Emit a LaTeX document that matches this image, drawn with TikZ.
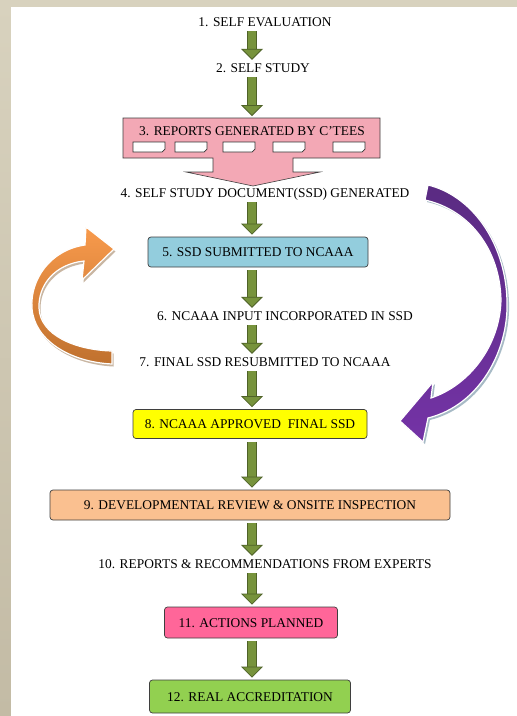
\documentclass[tikz,border=0pt]{standalone}
\usepackage{fontspec}
\setmainfont{Liberation Serif}
\usetikzlibrary{arrows.meta}

\definecolor{frametop}{HTML}{D8D2BE}
\definecolor{framebot}{HTML}{C3BBA5}
\definecolor{gfill}{HTML}{77933C}
\definecolor{gline}{HTML}{4F6228}
\definecolor{boxline}{HTML}{3F3F3F}
\definecolor{pinkthree}{HTML}{F3A8B5}
\definecolor{bluefive}{HTML}{93CDDD}
\definecolor{yelloweight}{HTML}{FFFF00}
\definecolor{orangenine}{HTML}{FAC090}
\definecolor{pinkeleven}{HTML}{FF6699}
\definecolor{greentwelve}{HTML}{92D050}
\definecolor{orangetop}{HTML}{F89A4C}
\definecolor{orangebot}{HTML}{C0712E}
\definecolor{orangeshadow}{HTML}{C9B6A2}
\definecolor{purpletop}{HTML}{5A2B82}
\definecolor{purplebot}{HTML}{7433A6}
\definecolor{purpleshadow}{HTML}{A7BAC6}

\tikzset{
  lbl/.style={font=\fontsize{13.4}{16}\selectfont, inner sep=1.5pt, text height=9pt, text depth=0pt},
  stepbox/.style={lbl, draw=boxline, line width=0.7pt, rounded corners=3pt},
  garrow/.style={draw=gfill, line width=8pt, shorten <=3pt, shorten >=2pt,
    -{Triangle[length=11pt, width=22pt, line width=0.8pt, color=gline, fill=gfill]},
    preaction={draw=gline, line width=10pt, shorten <=3pt, shorten >=12pt, -}}
}

% curved return arrows
\newcommand\orangecurve{(114,249) -- (86,227) -- (85,245)
  .. controls (50,250) and (30,280) .. (32,308)
  .. controls (34,340) and (70,362) .. (112,364)
  -- (112,351)
  .. controls (75,350) and (40,335) .. (39,308)
  .. controls (38,285) and (55,264) .. (84,261)
  -- (82,280) -- cycle}
\newcommand\purplecurve{(428,185)
  .. controls (470,195) and (505,240) .. (507,300)
  .. controls (509,350) and (480,405) .. (428,418)
  -- (423,442) -- (400,421) -- (433,382) -- (431,398)
  .. controls (470,385) and (500,345) .. (501,300)
  .. controls (500,250) and (470,210) .. (425,200)
  -- cycle}

\begin{document}
\begin{tikzpicture}[x=1pt,y=-1pt]
\useasboundingbox (0,0) rectangle (517,716);

% Frame
\shade[top color=frametop, bottom color=framebot] (0,0) rectangle (517,716);
\fill[white] (11,7) rectangle (517,716);

% Return arrows
\fill[orangeshadow, shift={(1.5,2.5)}] \orangecurve;
\shadedraw[top color=orangetop, bottom color=orangebot, draw=white, line width=1.2pt] \orangecurve;
\fill[purpleshadow, shift={(2,2)}] \purplecurve;
\shadedraw[top color=purpletop, bottom color=purplebot, draw=white, line width=1.2pt] \purplecurve;

% Reports callout
\draw[draw=boxline, fill=pinkthree, line width=0.6pt] (123,118) -- (380,118) -- (380,158)
  -- (293,158) -- (293,172) -- (320,172) -- (253,186) -- (186,172) -- (213,172)
  -- (213,158) -- (123,158) -- cycle;
\foreach \dx in {133,175,223,273,333}
  \draw[fill=white, draw=black!80, line width=0.7pt] (\dx,142) -- ++(32,0) -- ++(0,7) -- ++(-3,3) -- ++(-29,0) -- cycle;

% Steps
\coordinate (axis) at (252,0);
\coordinate (b3top) at (252,118);
\node[lbl] (t1) at (265,22) {1. SELF EVALUATION};
\node[lbl] (t2) at (263,68) {2. SELF STUDY};
\node[lbl] (t3) at (252,131) {3. REPORTS GENERATED BY C’TEES};
\node[lbl] (t4) at (265,193) {4. SELF STUDY DOCUMENT(SSD) GENERATED};
\node[stepbox, fill=bluefive, minimum width=220pt, minimum height=30pt] (b5) at (258,252) {5. SSD SUBMITTED TO NCAAA};
\node[lbl] (t6) at (285,316) {6. NCAAA INPUT INCORPORATED IN SSD};
\node[lbl] (t7) at (265,362) {7. FINAL SSD RESUBMITTED TO NCAAA};
\node[stepbox, fill=yelloweight, minimum width=234pt, minimum height=29pt] (b8) at (250,424) {8. NCAAA APPROVED\ \ FINAL SSD};
\node[stepbox, fill=orangenine, minimum width=400pt, minimum height=30pt] (b9) at (250,505) {9. DEVELOPMENTAL REVIEW \& ONSITE INSPECTION};
\node[lbl] (t10) at (265,564) {10. REPORTS \& RECOMMENDATIONS FROM EXPERTS};
\node[stepbox, fill=pinkeleven, minimum width=173pt, minimum height=31pt] (b11) at (251,622.5) {11. ACTIONS PLANNED};
\node[stepbox, fill=greentwelve, minimum width=201pt, minimum height=33pt] (b12) at (250,696.5) {12. REAL ACCREDITATION};

% Flow arrows
\draw[garrow] (t1.south -| axis) -- (t2.north -| axis);
\draw[garrow] (t2.south -| axis) -- (b3top);
\draw[garrow] (t4.south -| axis) -- (b5.north -| axis);
\draw[garrow] (b5.south -| axis) -- (t6.north -| axis);
\draw[garrow] (t6.south -| axis) -- (t7.north -| axis);
\draw[garrow] (t7.south -| axis) -- (b8.north -| axis);
\draw[garrow] (b8.south -| axis) -- (b9.north -| axis);
\draw[garrow] (b9.south -| axis) -- (t10.north -| axis);
\draw[garrow] (t10.south -| axis) -- (b11.north -| axis);
\draw[garrow] (b11.south -| axis) -- (b12.north -| axis);
\end{tikzpicture}
\end{document}
